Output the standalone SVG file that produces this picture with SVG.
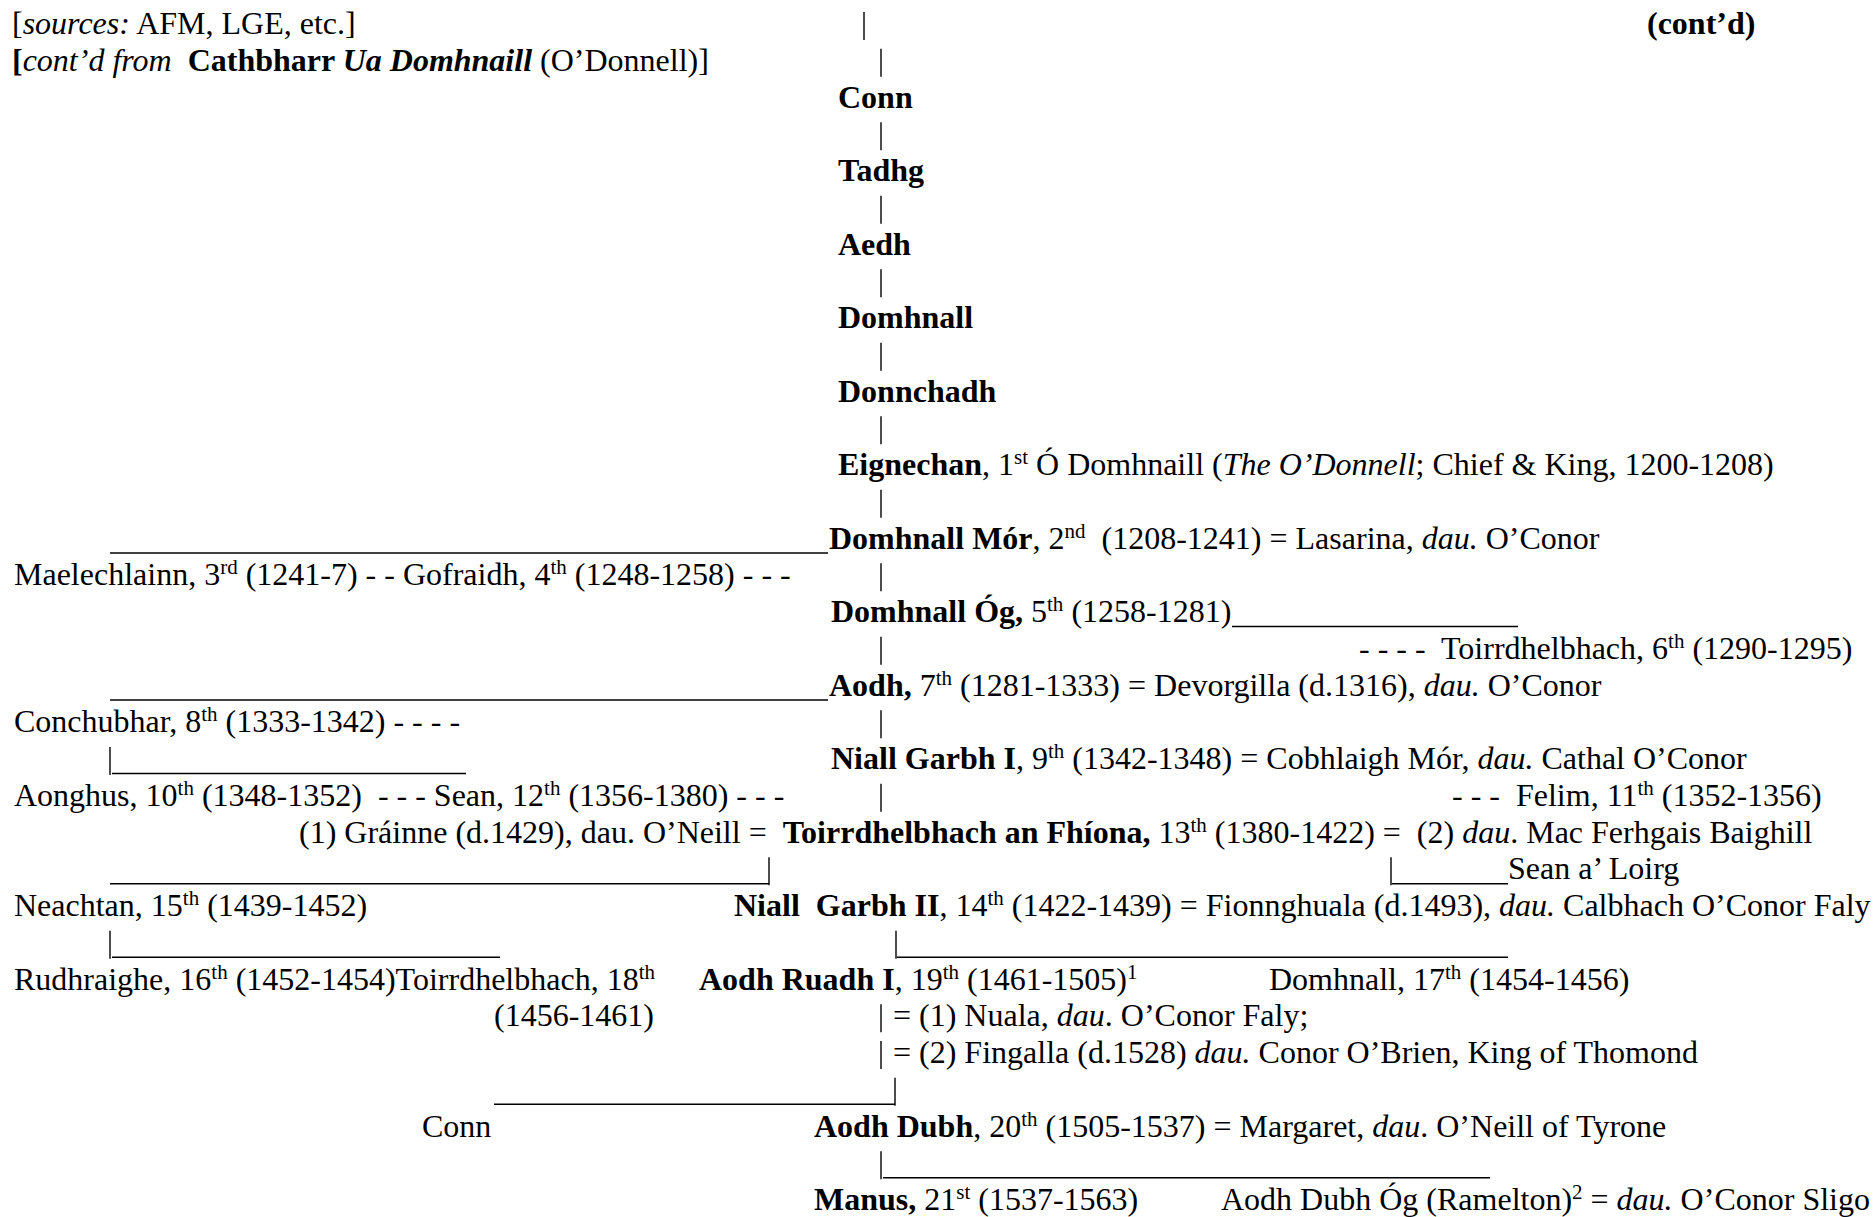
<svg xmlns="http://www.w3.org/2000/svg" width="1874" height="1217" viewBox="0 0 1874 1217">
<style>
text{font-family:"Liberation Serif","Times New Roman",serif;font-size:32px;fill:#000;white-space:pre}
.b{font-weight:bold}
.i{font-style:italic}
.s{font-size:21px}
#connectors line{stroke:#000;stroke-width:1.4;fill:none}
#connectors line.u{stroke-width:1.6}
</style>
<rect width="1874" height="1217" fill="#fff"/>
<g id="connectors">
<line x1="864" y1="12" x2="864" y2="40"/>
<line x1="881" y1="48.75" x2="881" y2="76.75"/>
<line x1="881" y1="122.25" x2="881" y2="150.25"/>
<line x1="881" y1="195.75" x2="881" y2="223.75"/>
<line x1="881" y1="269.25" x2="881" y2="297.25"/>
<line x1="881" y1="342.75" x2="881" y2="370.75"/>
<line x1="881" y1="416.25" x2="881" y2="444.25"/>
<line x1="881" y1="489.75" x2="881" y2="517.75"/>
<line class="u" x1="110" y1="553" x2="828" y2="553"/>
<line x1="881" y1="563.25" x2="881" y2="591.25"/>
<line class="u" x1="1232" y1="626.5" x2="1518" y2="626.5"/>
<line x1="881" y1="636.75" x2="881" y2="664.75"/>
<line class="u" x1="110" y1="700" x2="828" y2="700"/>
<line x1="881" y1="710.25" x2="881" y2="738.25"/>
<line x1="110" y1="747" x2="110" y2="775"/>
<line class="u" x1="112" y1="773.5" x2="466" y2="773.5"/>
<line x1="881" y1="783.75" x2="881" y2="811.75"/>
<line class="u" x1="110" y1="883.75" x2="769" y2="883.75"/>
<line x1="769" y1="857.25" x2="769" y2="885.25"/>
<line x1="1391" y1="857.25" x2="1391" y2="885.25"/>
<line class="u" x1="1392" y1="883.75" x2="1508" y2="883.75"/>
<line x1="110" y1="930.75" x2="110" y2="958.75"/>
<line class="u" x1="112" y1="957.25" x2="500" y2="957.25"/>
<line x1="896" y1="930.75" x2="896" y2="958.75"/>
<line class="u" x1="897" y1="957.25" x2="1508" y2="957.25"/>
<line x1="881" y1="1004.25" x2="881" y2="1032.25"/>
<line x1="881" y1="1041" x2="881" y2="1069"/>
<line class="u" x1="494" y1="1104.25" x2="895" y2="1104.25"/>
<line x1="895" y1="1077.75" x2="895" y2="1105.75"/>
<line x1="881" y1="1151.25" x2="881" y2="1179.25"/>
<line class="u" x1="883" y1="1177.75" x2="1490" y2="1177.75"/>
</g>
<g id="n-sources"><text x="12" y="34">[<tspan class="i">sources:</tspan> AFM, LGE, etc.]</text></g>
<g id="n-contd-from"><text x="12" y="70.75"><tspan class="b">[</tspan><tspan class="i">cont’d from</tspan>  <tspan class="b">Cathbharr <tspan class="i">Ua Domhnaill</tspan></tspan> (O’Donnell)]</text></g>
<g id="n-contd"><text x="1647" y="34" class="b">(cont’d)</text></g>
<g id="n-conn"><text x="838" y="107.5" class="b">Conn</text></g>
<g id="n-tadhg"><text x="838" y="181" class="b">Tadhg</text></g>
<g id="n-aedh"><text x="838" y="254.5" class="b">Aedh</text></g>
<g id="n-domhnall"><text x="838" y="328" class="b">Domhnall</text></g>
<g id="n-donnchadh"><text x="838" y="401.5" class="b">Donnchadh</text></g>
<g id="n-eignechan"><text x="838" y="475"><tspan class="b">Eignechan</tspan>, 1<tspan class="s" dy="-11">st</tspan><tspan dy="11"> Ó Domhnaill (</tspan><tspan class="i">The O’Donnell</tspan>; Chief &amp; King, 1200-1208)</text></g>
<g id="n-domhnall-mor"><text x="829" y="548.5"><tspan class="b">Domhnall Mór</tspan>, 2<tspan class="s" dy="-11">nd</tspan><tspan dy="11">  (1208-1241) = Lasarina, </tspan><tspan class="i">dau.</tspan> O’Conor</text></g>
<g id="n-maelechlainn"><text x="14" y="585.25">Maelechlainn, 3<tspan class="s" dy="-11">rd</tspan><tspan dy="11"> (1241-7) - - Gofraidh, 4</tspan><tspan class="s" dy="-11">th</tspan><tspan dy="11"> (1248-1258) - - -</tspan></text></g>
<g id="n-domhnall-og"><text x="831" y="622"><tspan class="b">Domhnall Óg,</tspan> 5<tspan class="s" dy="-11">th</tspan><tspan dy="11"> (1258-1281)</tspan></text></g>
<g id="n-toirrdhelbhach-6"><text x="1359" y="658.75">- - - -  Toirrdhelbhach, 6<tspan class="s" dy="-11">th</tspan><tspan dy="11"> (1290-1295)</tspan></text></g>
<g id="n-aodh-7"><text x="829" y="695.5"><tspan class="b">Aodh,</tspan> 7<tspan class="s" dy="-11">th</tspan><tspan dy="11"> (1281-1333) = Devorgilla (d.1316), </tspan><tspan class="i">dau.</tspan> O’Conor</text></g>
<g id="n-conchubhar"><text x="14" y="732.25">Conchubhar, 8<tspan class="s" dy="-11">th</tspan><tspan dy="11"> (1333-1342) - - - -</tspan></text></g>
<g id="n-niall-garbh-1"><text x="831" y="769"><tspan class="b">Niall Garbh I</tspan>, 9<tspan class="s" dy="-11">th</tspan><tspan dy="11"> (1342-1348) = Cobhlaigh Mór, </tspan><tspan class="i">dau.</tspan> Cathal O’Conor</text></g>
<g id="n-aonghus-sean"><text x="14" y="805.75">Aonghus, 10<tspan class="s" dy="-11">th</tspan><tspan dy="11"> (1348-1352)  - - - Sean, 12</tspan><tspan class="s" dy="-11">th</tspan><tspan dy="11"> (1356-1380) - - -</tspan></text></g>
<g id="n-felim"><text x="1452" y="805.75">- - -  Felim, 11<tspan class="s" dy="-11">th</tspan><tspan dy="11"> (1352-1356)</tspan></text></g>
<g id="n-toirrdhelbhach-an-fhiona"><text x="299" y="842.5">(1) Gráinne (d.1429), dau. O’Neill =  <tspan class="b">Toirrdhelbhach an Fhíona,</tspan> 13<tspan class="s" dy="-11">th</tspan><tspan dy="11"> (1380-1422) =  (2) </tspan><tspan class="i">dau</tspan>. Mac Ferhgais Baighill</text></g>
<g id="n-sean-a-loirg"><text x="1508" y="879.25">Sean a’ Loirg</text></g>
<g id="n-neachtan"><text x="14" y="916">Neachtan, 15<tspan class="s" dy="-11">th</tspan><tspan dy="11"> (1439-1452)</tspan></text></g>
<g id="n-niall-garbh-2"><text x="734" y="916"><tspan class="b">Niall  Garbh II</tspan>, 14<tspan class="s" dy="-11">th</tspan><tspan dy="11"> (1422-1439) = Fionnghuala (d.1493), </tspan><tspan class="i">dau.</tspan> Calbhach O’Conor Faly</text></g>
<g id="n-rudhraighe-toirrdhelbhach"><text x="14" y="989.5">Rudhraighe, 16<tspan class="s" dy="-11">th</tspan><tspan dy="11"> (1452-1454)Toirrdhelbhach, 18</tspan><tspan class="s" dy="-11">th</tspan></text><text x="494" y="1026.25">(1456-1461)</text></g>
<g id="n-aodh-ruadh-1"><text x="699" y="989.5"><tspan class="b">Aodh Ruadh I</tspan>, 19<tspan class="s" dy="-11">th</tspan><tspan dy="11"> (1461-1505)</tspan><tspan class="s" dy="-11">1</tspan></text><text x="893" y="1026.25">= (1) Nuala, <tspan class="i">dau</tspan>. O’Conor Faly;</text><text x="893" y="1063">= (2) Fingalla (d.1528) <tspan class="i">dau.</tspan> Conor O’Brien, King of Thomond</text></g>
<g id="n-domhnall-17"><text x="1269" y="989.5">Domhnall, 17<tspan class="s" dy="-11">th</tspan><tspan dy="11"> (1454-1456)</tspan></text></g>
<g id="n-conn-2"><text x="422" y="1136.5">Conn</text></g>
<g id="n-aodh-dubh"><text x="814" y="1136.5"><tspan class="b">Aodh Dubh</tspan>, 20<tspan class="s" dy="-11">th</tspan><tspan dy="11"> (1505-1537) = Margaret, </tspan><tspan class="i">dau</tspan>. O’Neill of Tyrone</text></g>
<g id="n-manus"><text x="814" y="1210"><tspan class="b">Manus,</tspan> 21<tspan class="s" dy="-11">st</tspan><tspan dy="11"> (1537-1563)</tspan></text></g>
<g id="n-aodh-dubh-og"><text x="1221" y="1210">Aodh Dubh Óg (Ramelton)<tspan class="s" dy="-11">2</tspan><tspan dy="11"> = </tspan><tspan class="i">dau.</tspan> O’Conor Sligo</text></g>
</svg>
